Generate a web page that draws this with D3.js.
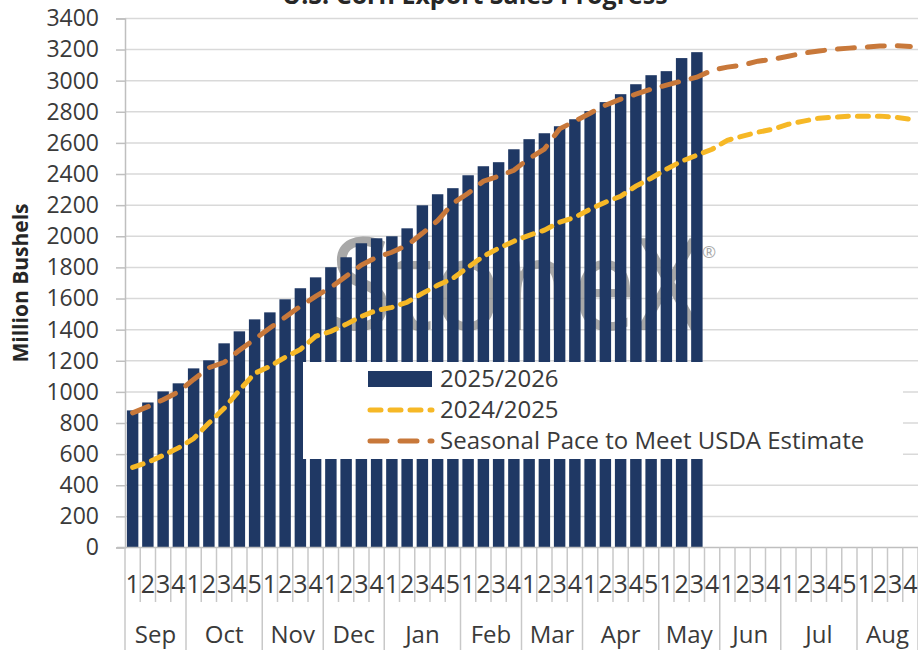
<!DOCTYPE html>
<html>
<head>
<meta charset="utf-8">
<script src="https://cdn.jsdelivr.net/npm/d3@7"></script>
<style>
  body { margin: 0; background: white; }
  svg text { font-family: "Open Sans", "DejaVu Sans", sans-serif; }
</style>
</head>
<body>
<div id="chart"></div>
<script>
// months of the marketing year and how many weeks each one has
var months = ["Sep", "Oct", "Nov", "Dec", "Jan", "Feb", "Mar", "Apr", "May", "Jun", "Jul", "Aug"];
var weeksPerMonth = [4, 5, 4, 4, 5, 4, 4, 5, 4, 4, 5, 4];

// 2025/2026 cumulative sales (bars), million bushels
var sales2526 = [881, 932, 1003, 1055, 1151, 1203, 1312, 1389, 1466, 1511,
  1595, 1666, 1736, 1801, 1865, 1955, 1987, 2000, 2051, 2199,
  2270, 2309, 2392, 2450, 2476, 2559, 2624, 2662, 2707, 2752,
  2804, 2862, 2913, 2977, 3035, 3061, 3145, 3183];

// 2024/2025 cumulative sales (yellow dashes)
var sales2425 = [515, 547, 592, 640, 700, 800, 894, 1010, 1119, 1164,
  1222, 1273, 1357, 1389, 1434, 1485, 1524, 1543, 1576, 1633,
  1685, 1730, 1801, 1871, 1923, 1968, 2006, 2039, 2090, 2122,
  2174, 2219, 2257, 2322, 2373, 2431, 2482, 2521, 2559, 2617,
  2643, 2669, 2688, 2720, 2740, 2759, 2765, 2772, 2772, 2772,
  2765, 2752];

// seasonal pace to meet the USDA estimate (brown dashes)
var seasonal = [865, 905, 950, 1000, 1080, 1155, 1190, 1267, 1338, 1410,
  1480, 1550, 1614, 1672, 1743, 1815, 1865, 1897, 1942, 2019,
  2100, 2212, 2276, 2354, 2386, 2424, 2500, 2560, 2690, 2740,
  2791, 2842, 2881, 2913, 2945, 2971, 2997, 3022, 3067, 3087,
  3100, 3125, 3138, 3157, 3177, 3190, 3202, 3209, 3215, 3222,
  3225, 3219];

var yTicks = d3.range(0, 3401, 200);

var navy = "#1f3864", yellow = "#f6b826", brown = "#c8783a";
var textCol = "#3a3a3a";

// build the week list
var weeks = [];
months.forEach(function (m, mi) {
  for (var w = 1; w <= weeksPerMonth[mi]; w++) {
    weeks.push({ month: m, monthIndex: mi, week: w });
  }
});
weeks.forEach(function (d, i) { d.i = i; });

var W = 918, H = 650;
var plotLeft = 125, plotRight = 918, plotTop = 18.4, plotBottom = 547.5;

var svg = d3.select("#chart").append("svg")
  .attr("width", W)
  .attr("height", H);

var x = d3.scaleBand()
  .domain(weeks.map(function (d) { return d.i; }))
  .range([plotLeft, plotRight])
  .paddingInner(0.25)
  .paddingOuter(0.125);

var y = d3.scaleLinear().domain([0, 3400]).range([plotBottom, plotTop]);

// title (top is cut off in the original)
svg.append("text")
  .attr("x", 475)
  .attr("y", 4)
  .attr("text-anchor", "middle")
  .style("font-size", "25px")
  .style("font-weight", "bold")
  .style("fill", "#262626")
  .text("U.S. Corn Export Sales Progress");

// gridlines
svg.append("g")
  .selectAll("line")
  .data(yTicks.filter(function (t) { return t > 0; }))
  .enter()
  .append("line")
  .attr("x1", plotLeft)
  .attr("x2", plotRight)
  .attr("y1", function (d) { return y(d); })
  .attr("y2", function (d) { return y(d); })
  .style("stroke", "#d9d9d9")
  .style("stroke-width", 1.5);

// y axis
var yAxis = svg.append("g")
  .attr("transform", "translate(" + plotLeft + ",0)")
  .call(d3.axisLeft(y).tickValues(yTicks).tickSize(9).tickPadding(17).tickFormat(d3.format("d")));
yAxis.select(".domain").style("stroke", "#bfbfbf").style("stroke-width", 1.5);
yAxis.selectAll(".tick line").style("stroke", "#bfbfbf").style("stroke-width", 1.5);
yAxis.selectAll(".tick text")
  .style("font-size", "23px")
  .style("font-family", "Open Sans")
  .style("fill", textCol);

svg.append("text")
  .attr("transform", "translate(28,283) rotate(-90)")
  .attr("text-anchor", "middle")
  .style("font-size", "21px")
  .style("font-weight", "bold")
  .style("fill", "#262626")
  .text("Million Bushels");

// watermark behind the bars
svg.append("text")
  .attr("x", 330)
  .attr("y", 330)
  .attr("textLength", 372)
  .attr("lengthAdjust", "spacingAndGlyphs")
  .style("font-size", "128px")
  .style("fill", "#8c8c8c")
  .style("opacity", 0.75)
  .text("StoneX");
svg.append("text")
  .attr("x", 702)
  .attr("y", 258)
  .style("font-size", "17px")
  .style("fill", "#8c8c8c")
  .style("opacity", 0.75)
  .text("®");

// bars
svg.append("g")
  .selectAll("rect")
  .data(sales2526)
  .enter()
  .append("rect")
  .attr("x", function (d, i) { return x(i); })
  .attr("y", function (d) { return y(d); })
  .attr("width", x.bandwidth())
  .attr("height", function (d) { return plotBottom - y(d); })
  .style("fill", navy);

// lines
var line = d3.line()
  .x(function (d, i) { return x(i) + x.bandwidth() / 2; })
  .y(function (d) { return y(d); });

svg.append("path")
  .datum(sales2425)
  .attr("d", line)
  .style("fill", "none")
  .style("stroke", yellow)
  .style("stroke-width", 5)
  .style("stroke-dasharray", "11,9")
  .style("stroke-linecap", "round");

svg.append("path")
  .datum(seasonal)
  .attr("d", line)
  .style("fill", "none")
  .style("stroke", brown)
  .style("stroke-width", 5)
  .style("stroke-dasharray", "17,13")
  .style("stroke-linecap", "round");

// x axis: week numbers and months
var step = x.step();
svg.append("line")
  .attr("x1", plotLeft - 8).attr("x2", plotRight)
  .attr("y1", plotBottom).attr("y2", plotBottom)
  .style("stroke", "#bfbfbf").style("stroke-width", 1.5);

var monthStart = [];
var acc = 0;
weeksPerMonth.forEach(function (n) { monthStart.push(acc); acc += n; });

// week separators, longer at month boundaries
svg.append("g")
  .selectAll("line")
  .data(d3.range(0, weeks.length + 1))
  .enter()
  .append("line")
  .attr("x1", function (i) { return plotLeft + i * step; })
  .attr("x2", function (i) { return plotLeft + i * step; })
  .attr("y1", plotBottom)
  .attr("y2", function (i) {
    return (monthStart.indexOf(i) >= 0 || i === weeks.length) ? H : 602;
  })
  .style("stroke", "#c8c8c8")
  .style("stroke-width", 1.5);

svg.append("g")
  .selectAll("text")
  .data(weeks)
  .enter()
  .append("text")
  .attr("x", function (d) { return x(d.i) + x.bandwidth() / 2; })
  .attr("y", 593)
  .attr("text-anchor", "middle")
  .style("font-size", "25px")
  .style("fill", textCol)
  .text(function (d) { return d.week; });

svg.append("g")
  .selectAll("text")
  .data(months)
  .enter()
  .append("text")
  .attr("x", function (d, i) { return plotLeft + (monthStart[i] + weeksPerMonth[i] / 2) * step; })
  .attr("y", 643)
  .attr("text-anchor", "middle")
  .style("font-size", "24px")
  .style("fill", textCol)
  .text(function (d) { return d; });

// legend
var lg = svg.append("g");
lg.append("rect")
  .attr("x", 303).attr("y", 362)
  .attr("width", 600).attr("height", 97)
  .style("fill", "white");

var legendItems = [
  { label: "2025/2026", type: "bar" },
  { label: "2024/2025", type: "line", color: yellow, dash: "11,9" },
  { label: "Seasonal Pace to Meet USDA Estimate", type: "line", color: brown, dash: "17,13" }
];
legendItems.forEach(function (item, k) {
  var cy = 379 + k * 31;
  if (item.type === "bar") {
    lg.append("rect")
      .attr("x", 368).attr("y", cy - 8)
      .attr("width", 64).attr("height", 16)
      .style("fill", navy);
  } else {
    lg.append("line")
      .attr("x1", 370).attr("x2", 432)
      .attr("y1", cy).attr("y2", cy)
      .style("stroke", item.color)
      .style("stroke-width", 5)
      .style("stroke-dasharray", item.dash)
      .style("stroke-linecap", "round");
  }
  lg.append("text")
    .attr("x", 440)
    .attr("y", cy)
    .attr("dy", "0.35em")
    .style("font-size", "24px")
    .style("fill", textCol)
    .text(item.label);
});
</script>
</body>
</html>
